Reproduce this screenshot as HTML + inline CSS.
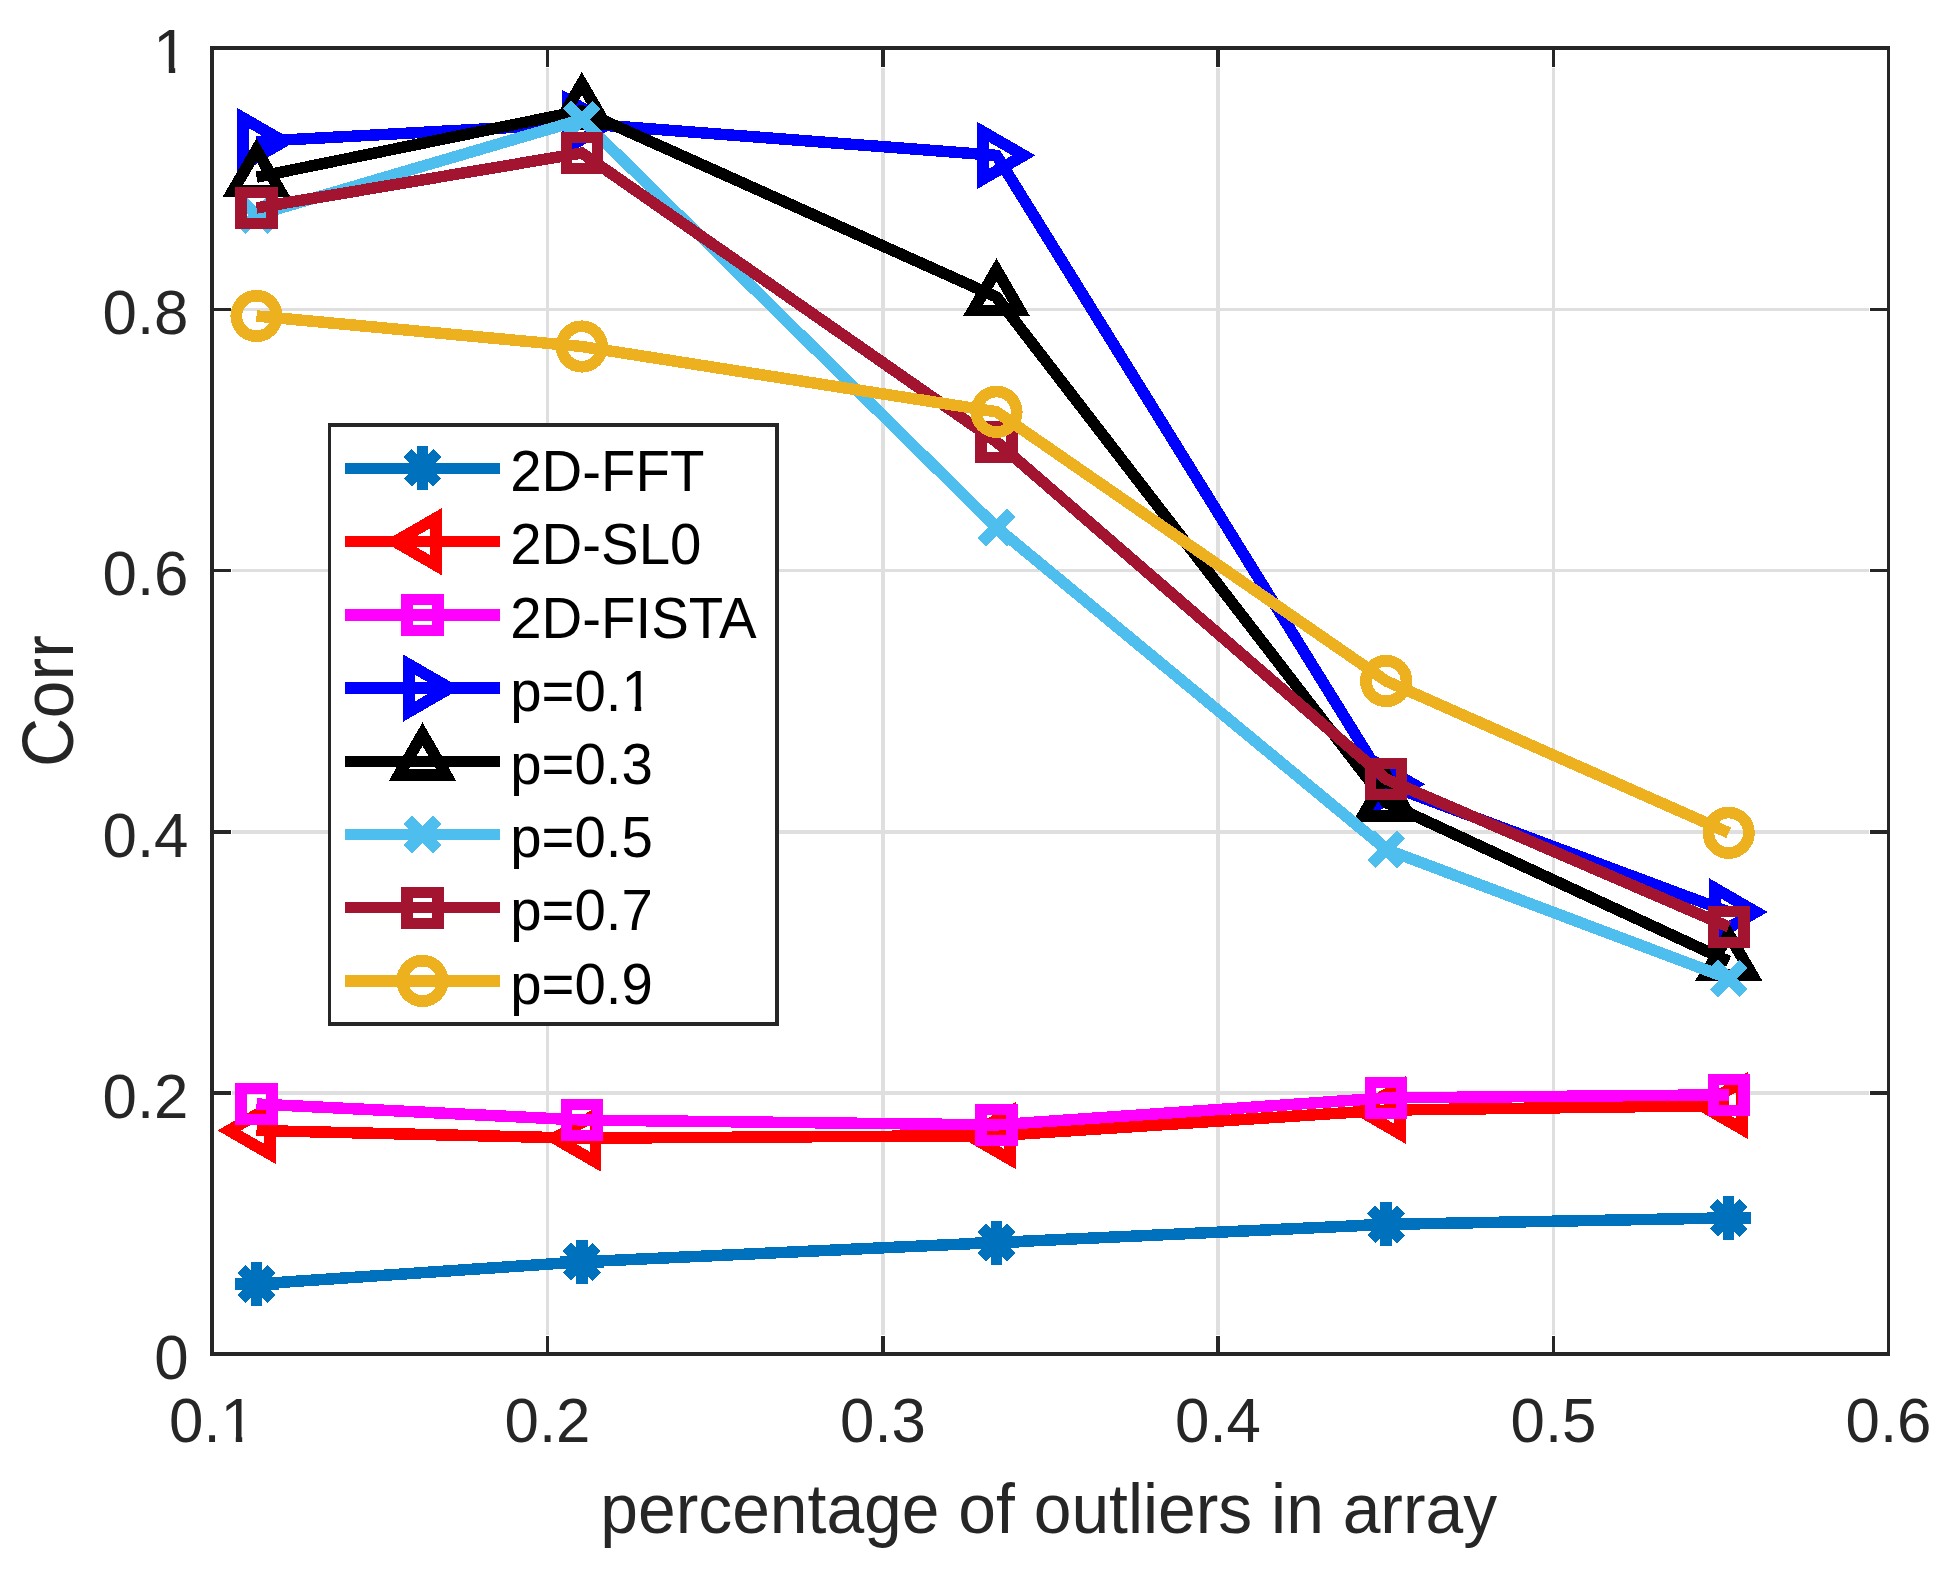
<!DOCTYPE html>
<html><head><meta charset="utf-8"><title>Corr vs percentage of outliers in array</title>
<style>html,body{margin:0;padding:0;background:#fff}svg{display:block}text{font-family:"Liberation Sans",Arial,Helvetica,sans-serif}</style></head><body>
<svg width="1951" height="1580" viewBox="0 0 1951 1580">
<rect width="1951" height="1580" fill="#fff"/>
<g shape-rendering="crispEdges">
<rect x="546" y="68" width="3" height="1267" fill="#dfdfdf"/>
<rect x="881" y="68" width="4" height="1267" fill="#dfdfdf"/>
<rect x="1216" y="68" width="4" height="1267" fill="#dfdfdf"/>
<rect x="1552" y="68" width="3" height="1267" fill="#dfdfdf"/>
<rect x="232" y="308" width="1637" height="3" fill="#dfdfdf"/>
<rect x="232" y="569" width="1637" height="3" fill="#dfdfdf"/>
<rect x="232" y="830" width="1637" height="4" fill="#dfdfdf"/>
<rect x="232" y="1091" width="1637" height="4" fill="#dfdfdf"/>
<rect x="210" y="46" width="1680" height="4" fill="#262626"/>
<rect x="210" y="1352" width="1680" height="4" fill="#262626"/>
<rect x="210" y="46" width="4" height="1310" fill="#262626"/>
<rect x="1887" y="46" width="3" height="1310" fill="#262626"/>
<rect x="546" y="1336" width="3" height="16" fill="#262626"/>
<rect x="546" y="50" width="3" height="17" fill="#262626"/>
<rect x="881" y="1336" width="4" height="16" fill="#262626"/>
<rect x="881" y="50" width="4" height="17" fill="#262626"/>
<rect x="1216" y="1336" width="4" height="16" fill="#262626"/>
<rect x="1216" y="50" width="4" height="17" fill="#262626"/>
<rect x="1552" y="1336" width="3" height="16" fill="#262626"/>
<rect x="1552" y="50" width="3" height="17" fill="#262626"/>
<rect x="214" y="308" width="17" height="3" fill="#262626"/>
<rect x="1870" y="308" width="17" height="3" fill="#262626"/>
<rect x="214" y="569" width="17" height="3" fill="#262626"/>
<rect x="1870" y="569" width="17" height="3" fill="#262626"/>
<rect x="214" y="830" width="17" height="4" fill="#262626"/>
<rect x="1870" y="830" width="17" height="4" fill="#262626"/>
<rect x="214" y="1091" width="17" height="4" fill="#262626"/>
<rect x="1870" y="1091" width="17" height="4" fill="#262626"/>
</g>
<g shape-rendering="crispEdges">
<polyline points="256.5,1284 581.8,1261.8 996.5,1242.5 1386.2,1224.4 1728.7,1217.9" fill="none" stroke="#0072BD" stroke-width="11.5" stroke-linejoin="round"/>
<path d="M241.7 1269.2L271.3 1298.8M241.7 1298.8L271.3 1269.2M234.5 1284L278.5 1284M256.5 1262L256.5 1306" fill="none" stroke="#0072BD" stroke-width="11.5"/>
<path d="M567 1247L596.6 1276.6M567 1276.6L596.6 1247M559.8 1261.8L603.8 1261.8M581.8 1239.8L581.8 1283.8" fill="none" stroke="#0072BD" stroke-width="11.5"/>
<path d="M981.7 1227.7L1011.3 1257.3M981.7 1257.3L1011.3 1227.7M974.5 1242.5L1018.5 1242.5M996.5 1220.5L996.5 1264.5" fill="none" stroke="#0072BD" stroke-width="11.5"/>
<path d="M1371.4 1209.6L1401 1239.2M1371.4 1239.2L1401 1209.6M1364.2 1224.4L1408.2 1224.4M1386.2 1202.4L1386.2 1246.4" fill="none" stroke="#0072BD" stroke-width="11.5"/>
<path d="M1713.9 1203.1L1743.5 1232.7M1713.9 1232.7L1743.5 1203.1M1706.7 1217.9L1750.7 1217.9M1728.7 1195.9L1728.7 1239.9" fill="none" stroke="#0072BD" stroke-width="11.5"/>
<polyline points="256.5,1130.5 581.8,1138.2 996.5,1135.6 1386.2,1110.1 1728.7,1105.5" fill="none" stroke="#FF0000" stroke-width="11.5" stroke-linejoin="round"/>
<polygon points="229.3,1130.5 270.1,1106.94 270.1,1154.06" fill="none" stroke="#FF0000" stroke-width="11.7" stroke-linejoin="miter" stroke-miterlimit="10"/>
<polygon points="554.6,1138.2 595.4,1114.64 595.4,1161.76" fill="none" stroke="#FF0000" stroke-width="11.7" stroke-linejoin="miter" stroke-miterlimit="10"/>
<polygon points="969.3,1135.6 1010.1,1112.04 1010.1,1159.16" fill="none" stroke="#FF0000" stroke-width="11.7" stroke-linejoin="miter" stroke-miterlimit="10"/>
<polygon points="1359,1110.1 1399.8,1086.54 1399.8,1133.66" fill="none" stroke="#FF0000" stroke-width="11.7" stroke-linejoin="miter" stroke-miterlimit="10"/>
<polygon points="1701.5,1105.5 1742.3,1081.94 1742.3,1129.06" fill="none" stroke="#FF0000" stroke-width="11.7" stroke-linejoin="miter" stroke-miterlimit="10"/>
<polyline points="256.5,1104 581.8,1120 996.5,1124.9 1386.2,1097.9 1728.7,1094.8" fill="none" stroke="#FF00FF" stroke-width="11.5" stroke-linejoin="round"/>
<path fill-rule="evenodd" fill="#FF00FF" d="M235.3 1083H277.7V1125H235.3ZM246.75 1094.1H266.25V1113.9H246.75Z"/>
<path fill-rule="evenodd" fill="#FF00FF" d="M560.6 1099H603V1141H560.6ZM572.05 1110.1H591.55V1129.9H572.05Z"/>
<path fill-rule="evenodd" fill="#FF00FF" d="M975.3 1103.9H1017.7V1145.9H975.3ZM986.75 1115H1006.25V1134.8H986.75Z"/>
<path fill-rule="evenodd" fill="#FF00FF" d="M1365 1076.9H1407.4V1118.9H1365ZM1376.45 1088H1395.95V1107.8H1376.45Z"/>
<path fill-rule="evenodd" fill="#FF00FF" d="M1707.5 1073.8H1749.9V1115.8H1707.5ZM1718.95 1084.9H1738.45V1104.7H1718.95Z"/>
<polyline points="256.5,141.5 581.8,123.6 996.5,155.4 1386.2,784.3 1728.7,912" fill="none" stroke="#0000FF" stroke-width="11.5" stroke-linejoin="round"/>
<polygon points="283.7,141.5 242.9,165.06 242.9,117.94" fill="none" stroke="#0000FF" stroke-width="11.7" stroke-linejoin="miter" stroke-miterlimit="10"/>
<polygon points="609,123.6 568.2,147.16 568.2,100.04" fill="none" stroke="#0000FF" stroke-width="11.7" stroke-linejoin="miter" stroke-miterlimit="10"/>
<polygon points="1023.7,155.4 982.9,178.96 982.9,131.84" fill="none" stroke="#0000FF" stroke-width="11.7" stroke-linejoin="miter" stroke-miterlimit="10"/>
<polygon points="1413.4,784.3 1372.6,807.86 1372.6,760.74" fill="none" stroke="#0000FF" stroke-width="11.7" stroke-linejoin="miter" stroke-miterlimit="10"/>
<polygon points="1755.9,912 1715.1,935.56 1715.1,888.44" fill="none" stroke="#0000FF" stroke-width="11.7" stroke-linejoin="miter" stroke-miterlimit="10"/>
<polyline points="256.5,177.2 581.8,110.7 996.5,297 1386.2,802.5 1728.7,961.4" fill="none" stroke="#000000" stroke-width="11.5" stroke-linejoin="round"/>
<polygon points="256.5,150 280.06,190.8 232.94,190.8" fill="none" stroke="#000000" stroke-width="11.7" stroke-linejoin="miter" stroke-miterlimit="10"/>
<polygon points="581.8,83.5 605.36,124.3 558.24,124.3" fill="none" stroke="#000000" stroke-width="11.7" stroke-linejoin="miter" stroke-miterlimit="10"/>
<polygon points="996.5,269.8 1020.06,310.6 972.94,310.6" fill="none" stroke="#000000" stroke-width="11.7" stroke-linejoin="miter" stroke-miterlimit="10"/>
<polygon points="1386.2,775.3 1409.76,816.1 1362.64,816.1" fill="none" stroke="#000000" stroke-width="11.7" stroke-linejoin="miter" stroke-miterlimit="10"/>
<polygon points="1728.7,934.2 1752.26,975 1705.14,975" fill="none" stroke="#000000" stroke-width="11.7" stroke-linejoin="miter" stroke-miterlimit="10"/>
<polyline points="256.5,215 581.8,119.5 996.5,527.4 1386.2,849.4 1728.7,978.5" fill="none" stroke="#4DBEEE" stroke-width="11.5" stroke-linejoin="round"/>
<path d="M241.7 200.2L271.3 229.8M241.7 229.8L271.3 200.2" fill="none" stroke="#4DBEEE" stroke-width="11.5"/>
<path d="M567 104.7L596.6 134.3M567 134.3L596.6 104.7" fill="none" stroke="#4DBEEE" stroke-width="11.5"/>
<path d="M981.7 512.6L1011.3 542.2M981.7 542.2L1011.3 512.6" fill="none" stroke="#4DBEEE" stroke-width="11.5"/>
<path d="M1371.4 834.6L1401 864.2M1371.4 864.2L1401 834.6" fill="none" stroke="#4DBEEE" stroke-width="11.5"/>
<path d="M1713.9 963.7L1743.5 993.3M1713.9 993.3L1743.5 963.7" fill="none" stroke="#4DBEEE" stroke-width="11.5"/>
<polyline points="256.5,207.9 581.8,153 996.5,441.8 1386.2,779.1 1728.7,926.9" fill="none" stroke="#A2142F" stroke-width="11.5" stroke-linejoin="round"/>
<path fill-rule="evenodd" fill="#A2142F" d="M235.3 186.9H277.7V228.9H235.3ZM246.75 198H266.25V217.8H246.75Z"/>
<path fill-rule="evenodd" fill="#A2142F" d="M560.6 132H603V174H560.6ZM572.05 143.1H591.55V162.9H572.05Z"/>
<path fill-rule="evenodd" fill="#A2142F" d="M975.3 420.8H1017.7V462.8H975.3ZM986.75 431.9H1006.25V451.7H986.75Z"/>
<path fill-rule="evenodd" fill="#A2142F" d="M1365 758.1H1407.4V800.1H1365ZM1376.45 769.2H1395.95V789H1376.45Z"/>
<path fill-rule="evenodd" fill="#A2142F" d="M1707.5 905.9H1749.9V947.9H1707.5ZM1718.95 917H1738.45V936.8H1718.95Z"/>
<polyline points="256.5,316 581.8,346.5 996.5,411.8 1386.2,681 1728.7,832.8" fill="none" stroke="#EDB120" stroke-width="11.5" stroke-linejoin="round"/>
<circle cx="256.5" cy="316" r="20.25" fill="none" stroke="#EDB120" stroke-width="11.7"/>
<circle cx="581.8" cy="346.5" r="20.25" fill="none" stroke="#EDB120" stroke-width="11.7"/>
<circle cx="996.5" cy="411.8" r="20.25" fill="none" stroke="#EDB120" stroke-width="11.7"/>
<circle cx="1386.2" cy="681" r="20.25" fill="none" stroke="#EDB120" stroke-width="11.7"/>
<circle cx="1728.7" cy="832.8" r="20.25" fill="none" stroke="#EDB120" stroke-width="11.7"/>
<rect x="331" y="427" width="444" height="595" fill="#fff"/>
<rect x="328" y="423" width="451" height="4" fill="#262626"/>
<rect x="328" y="1022" width="451" height="4" fill="#262626"/>
<rect x="328" y="423" width="3" height="603" fill="#262626"/>
<rect x="775" y="423" width="4" height="603" fill="#262626"/>
<line x1="345" y1="468.5" x2="500" y2="468.5" stroke="#0072BD" stroke-width="11.5"/>
<path d="M407.7 452.9L437.3 482.5M407.7 482.5L437.3 452.9M422.5 445.7L422.5 489.7" fill="none" stroke="#0072BD" stroke-width="11.5"/>
<line x1="345" y1="541.7" x2="500" y2="541.7" stroke="#FF0000" stroke-width="11.5"/>
<polygon points="395.3,541.7 436.1,518.14 436.1,565.26" fill="none" stroke="#FF0000" stroke-width="11.7" stroke-linejoin="miter" stroke-miterlimit="10"/>
<line x1="345" y1="614.9" x2="500" y2="614.9" stroke="#FF00FF" stroke-width="11.5"/>
<path fill-rule="evenodd" fill="#FF00FF" d="M401.3 593.9H443.7V635.9H401.3ZM412.75 605H432.25V624.8H412.75Z"/>
<line x1="345" y1="688.1" x2="500" y2="688.1" stroke="#0000FF" stroke-width="11.5"/>
<polygon points="449.7,688.1 408.9,711.66 408.9,664.54" fill="none" stroke="#0000FF" stroke-width="11.7" stroke-linejoin="miter" stroke-miterlimit="10"/>
<line x1="345" y1="761.3" x2="500" y2="761.3" stroke="#000000" stroke-width="11.5"/>
<polygon points="422.5,734.1 446.06,774.9 398.94,774.9" fill="none" stroke="#000000" stroke-width="11.7" stroke-linejoin="miter" stroke-miterlimit="10"/>
<line x1="345" y1="834.5" x2="500" y2="834.5" stroke="#4DBEEE" stroke-width="11.5"/>
<path d="M407.7 819.7L437.3 849.3M407.7 849.3L437.3 819.7" fill="none" stroke="#4DBEEE" stroke-width="11.5"/>
<line x1="345" y1="907.7" x2="500" y2="907.7" stroke="#A2142F" stroke-width="11.5"/>
<path fill-rule="evenodd" fill="#A2142F" d="M401.3 886.7H443.7V928.7H401.3ZM412.75 897.8H432.25V917.6H412.75Z"/>
<line x1="345" y1="980.9" x2="500" y2="980.9" stroke="#EDB120" stroke-width="11.5"/>
<circle cx="422.5" cy="980.9" r="20.25" fill="none" stroke="#EDB120" stroke-width="11.7"/>
</g>
<defs><clipPath id="nf" clipPathUnits="userSpaceOnUse"><path clip-rule="evenodd" d="M0 0H1951V1580H0ZM149 67.4H168.8V76H149ZM175.2 67.4H195V76H175.2ZM221 1436.4H235.8V1446H221ZM242.2 1436.4H257V1446H242.2ZM621 704.6H634.8V714H621ZM641.2 704.6H656V714H641.2Z"/></clipPath></defs>
<g clip-path="url(#nf)">
<g fill="#000">
<text transform="translate(510.2,491.2) scale(1,1.015)" font-size="56.4">2D-FFT</text>
<text transform="translate(510.2,564.4) scale(1,1.015)" font-size="56.4">2D-SL0</text>
<text transform="translate(510.2,637.6) scale(1,1.015)" font-size="56.4">2D-FISTA</text>
<text transform="translate(510.2,710.8) scale(1,1.015)" font-size="56.4">p=0.1</text>
<text transform="translate(510.2,784) scale(1,1.015)" font-size="56.4">p=0.3</text>
<text transform="translate(510.2,857.2) scale(1,1.015)" font-size="56.4">p=0.5</text>
<text transform="translate(510.2,930.4) scale(1,1.015)" font-size="56.4">p=0.7</text>
<text transform="translate(510.2,1003.6) scale(1,1.015)" font-size="56.4">p=0.9</text>
</g>
<g fill="#262626">
<text transform="translate(187.5,72.6) scale(1,1.03)" font-size="61.8" text-anchor="end">1</text>
<text transform="translate(188.5,334.1) scale(1,1.03)" font-size="61.8" text-anchor="end">0.8</text>
<text transform="translate(188.5,595.1) scale(1,1.03)" font-size="61.8" text-anchor="end">0.6</text>
<text transform="translate(188.5,856.6) scale(1,1.03)" font-size="61.8" text-anchor="end">0.4</text>
<text transform="translate(188.5,1117.6) scale(1,1.03)" font-size="61.8" text-anchor="end">0.2</text>
<text transform="translate(188.5,1378.6) scale(1,1.03)" font-size="61.8" text-anchor="end">0</text>
<text transform="translate(212,1442) scale(1,1.03)" font-size="61.8" text-anchor="middle">0.1</text>
<text transform="translate(547.5,1442) scale(1,1.03)" font-size="61.8" text-anchor="middle">0.2</text>
<text transform="translate(883,1442) scale(1,1.03)" font-size="61.8" text-anchor="middle">0.3</text>
<text transform="translate(1218,1442) scale(1,1.03)" font-size="61.8" text-anchor="middle">0.4</text>
<text transform="translate(1553.5,1442) scale(1,1.03)" font-size="61.8" text-anchor="middle">0.5</text>
<text transform="translate(1888.5,1442) scale(1,1.03)" font-size="61.8" text-anchor="middle">0.6</text>
<text transform="translate(1048.7,1533) scale(1,1.03)" font-size="67.8" text-anchor="middle">percentage of outliers in array</text>
<text transform="translate(72.5,701.2) rotate(-90) scale(1,1.06)" font-size="67.8" text-anchor="middle">Corr</text>
</g>
</g>
</svg></body></html>
